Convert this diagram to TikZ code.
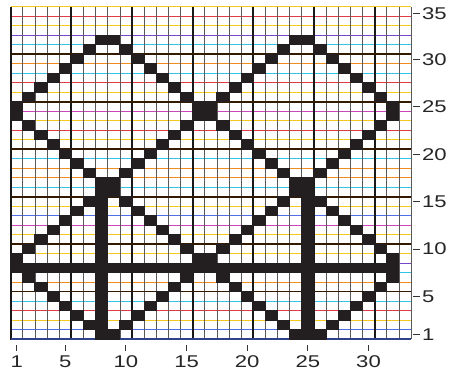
\documentclass[tikz,border=0pt]{standalone}
\usepackage{fontspec}
\newfontfamily\labelfont[FakeStretch=1.3]{Liberation Sans}
\definecolor{cellc}{RGB}{35,31,32}
\definecolor{hyel}{RGB}{245,200,30}
\definecolor{hred}{RGB}{225,60,70}
\definecolor{hora}{RGB}{240,140,30}
\definecolor{hvio}{RGB}{120,70,200}
\definecolor{hcya}{RGB}{50,195,230}
\definecolor{hmag}{RGB}{205,70,185}
\definecolor{hblu}{RGB}{80,110,230}
\newcommand\cellfill[2]{\fill[cellc] ({10.7+(#1-1)*12.13-0.5},{339-(#2)*9.49-0.5}) rectangle ({10.7+(#1)*12.13+0.5},{339-(#2-1)*9.49+0.5});}
\tikzset{
  vthin/.style={line width=0.7pt, draw=black!65},
  vthick/.style={line width=1.8pt, draw=black!90},
  hthick/.style={line width=1.7pt, draw=black!80!orange},
  lbl/.style={font=\labelfont\fontsize{17}{17}\selectfont, text=black!85, inner sep=0pt},
  tickmark/.style={line width=1pt, draw=black!80}
}
\begin{document}
\begin{tikzpicture}[x=1pt,y=-1pt]
\useasboundingbox (0,0) rectangle (450,373);
\fill[white] (0,0) rectangle (450,373);
% horizontal coloured lines
\foreach \k in {0,...,35} {
  \pgfmathsetmacro\hc{{"hyel","hred","hyel","hvio","hcya","hora","hora","hcya","hred","hyel","hblu","hmag"}[mod(35-\k,12)]}
  \draw[line width=1pt, draw=\hc] (10.7,{339-\k*9.49}) -- (411,{339-\k*9.49});
}
% vertical lines
\foreach \m in {1,...,33} {
  \draw[vthin] ({10.7+\m*12.13},6.85) -- ({10.7+\m*12.13},339);
}
\foreach \m in {5,10,...,30} {
  \draw[vthick] ({10.7+\m*12.13},6.85) -- ({10.7+\m*12.13},339);
}
\draw[vthick] (10.7,6.5) -- (10.7,339.5);
% thick horizontal lines
\foreach \k in {5,10,...,30} {
  \draw[hthick] (10.7,{339-\k*9.49}) -- (411,{339-\k*9.49});
}
\draw[line width=1.3pt, draw=hblu!60!black] (10.7,339) -- (411,339);
% diamonds
\foreach \o in {0,16} {
  \foreach \i in {1,...,8} {
    \cellfill{\o+\i}{24+\i}
    \cellfill{\o+8+\i}{33-\i}
    \cellfill{\o+\i}{25-\i}
    \cellfill{\o+8+\i}{16+\i}
    \cellfill{\o+\i}{8+\i}
    \cellfill{\o+8+\i}{17-\i}
    \cellfill{\o+\i}{9-\i}
  }
}
\foreach \i in {1,...,8} { \cellfill{8+\i}{\i} }
\foreach \i in {1,...,7} { \cellfill{25+\i}{\i} }
\cellfill{32}{8}
% bars
\foreach \c in {1,...,32} { \cellfill{\c}{8} }
\foreach \r in {1,...,16} { \cellfill{8}{\r} \cellfill{25}{\r} }
% right labels
\foreach \n/\yy in {35/13.5,30/59.2,25/106.7,20/154.2,15/201.6,10/249.1,5/296.6,1/334.3} {
  \draw[tickmark] (413,\yy) -- (420,\yy);
  \node[lbl, anchor=west] (r\n) at (422,\yy) {\n};
}
% bottom labels
\foreach \n in {1,5,10,15,20,25,30} {
  \draw[tickmark] ({10.7+(\n-0.5)*12.13},345) -- ({10.7+(\n-0.5)*12.13},350.5);
  \node[lbl] (c\n) at ({10.7+(\n-0.5)*12.13},361.5) {\n};
}
\end{tikzpicture}
\end{document}
